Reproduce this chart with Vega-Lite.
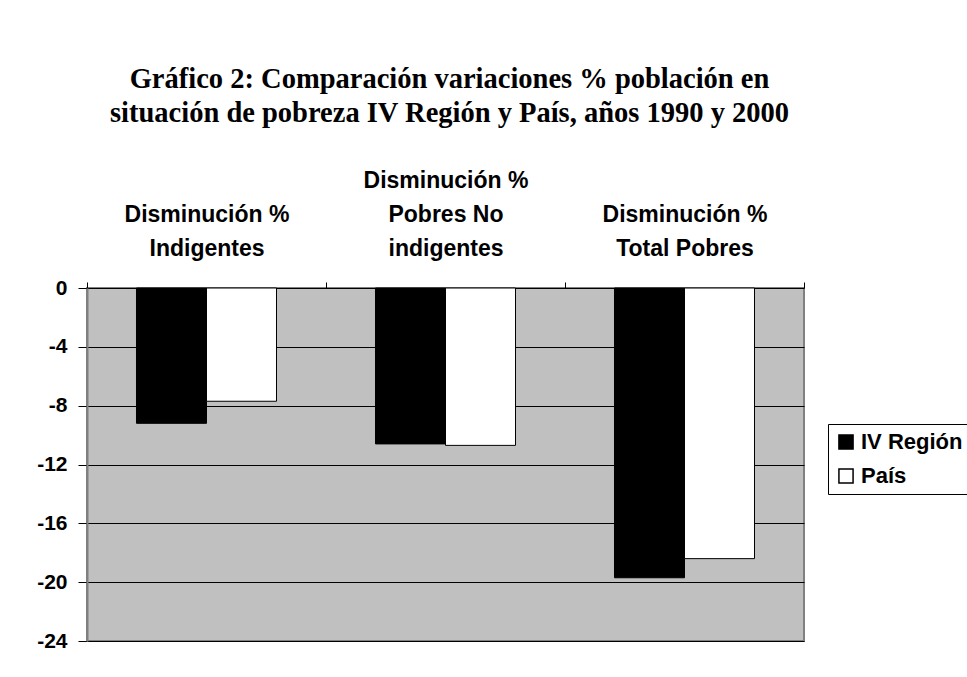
{
  "$schema": "https://vega.github.io/schema/vega-lite/v6.json",
  "autosize": {"type": "none"},
  "width": 717,
  "height": 353,
  "padding": {"left": 87, "top": 288, "right": 163, "bottom": 36},
  "background": "white",
  "title": {
    "text": ["Gráfico 2: Comparación variaciones % población en", "situación de pobreza IV Región y País, años 1990 y 2000"],
    "font": "Liberation Serif",
    "fontSize": 28.5,
    "fontWeight": "bold",
    "color": "black",
    "anchor": "middle",
    "frame": "group",
    "lineHeight": 34,
    "offset": 65,
    "dx": 4
  },
  "data": {
    "values": [
      {"categoria": "Disminución %|Indigentes", "serie": "IV Región", "valor": -9.2},
      {"categoria": "Disminución %|Indigentes", "serie": "País", "valor": -7.7},
      {"categoria": "Disminución %|Pobres No|indigentes", "serie": "IV Región", "valor": -10.6},
      {"categoria": "Disminución %|Pobres No|indigentes", "serie": "País", "valor": -10.7},
      {"categoria": "Disminución %|Total Pobres", "serie": "IV Región", "valor": -19.7},
      {"categoria": "Disminución %|Total Pobres", "serie": "País", "valor": -18.4}
    ]
  },
  "mark": {"type": "bar", "stroke": "black", "strokeWidth": 1},
  "encoding": {
    "x": {
      "field": "categoria",
      "type": "nominal",
      "sort": null,
      "scale": {"paddingInner": 0, "paddingOuter": 0},
      "axis": {
        "orient": "top",
        "title": null,
        "labelAngle": 0,
        "labelExpr": "reverse(split(datum.label, '|'))",
        "labelFont": "Liberation Sans",
        "labelFontWeight": "bold",
        "labelFontSize": 23,
        "labelLineHeight": -34,
        "labelBaseline": "bottom",
        "labelColor": "black",
        "labelLimit": 0,
        "labelPadding": 22,
        "tickBand": "extent",
        "tickSize": 6,
        "tickColor": "black",
        "domain": false
      }
    },
    "xOffset": {"field": "serie", "type": "nominal", "sort": ["IV Región", "País"], "scale": {"paddingInner": 0, "paddingOuter": 0.707}},
    "y": {
      "field": "valor",
      "type": "quantitative",
      "scale": {"domain": [-24, 0], "nice": false, "zero": false},
      "axis": {
        "title": null,
        "values": [0, -4, -8, -12, -16, -20, -24],
        "labelExpr": "toString(datum.value)",
        "labelFont": "Liberation Sans",
        "labelFontWeight": "bold",
        "labelFontSize": 21,
        "labelColor": "black",
        "labelPadding": 11,
        "tickSize": 9,
        "tickColor": "black",
        "domainColor": "#808080",
        "domainWidth": 2,
        "grid": true,
        "gridColor": "black",
        "gridOpacity": 1,
        "gridWidth": 1
      }
    },
    "fill": {
      "field": "serie",
      "type": "nominal",
      "sort": ["IV Región", "País"],
      "scale": {"domain": ["IV Región", "País"], "range": ["black", "white"]},
      "legend": {
        "title": null,
        "orient": "none",
        "legendX": 741,
        "legendY": 136,
        "symbolType": "square",
        "symbolSize": 200,
        "symbolStrokeColor": "black",
        "symbolStrokeWidth": 1.5,
        "labelFont": "Liberation Sans",
        "labelFontWeight": "bold",
        "labelFontSize": 22,
        "labelColor": "black",
        "rowPadding": 12,
        "padding": 7,
        "strokeColor": "black",
        "labelLimit": 0
      }
    }
  },
  "config": {
    "view": {"fill": "#c0c0c0", "stroke": "#808080", "strokeWidth": 2},
    "axis": {"gridZIndex": 0}
  }
}
